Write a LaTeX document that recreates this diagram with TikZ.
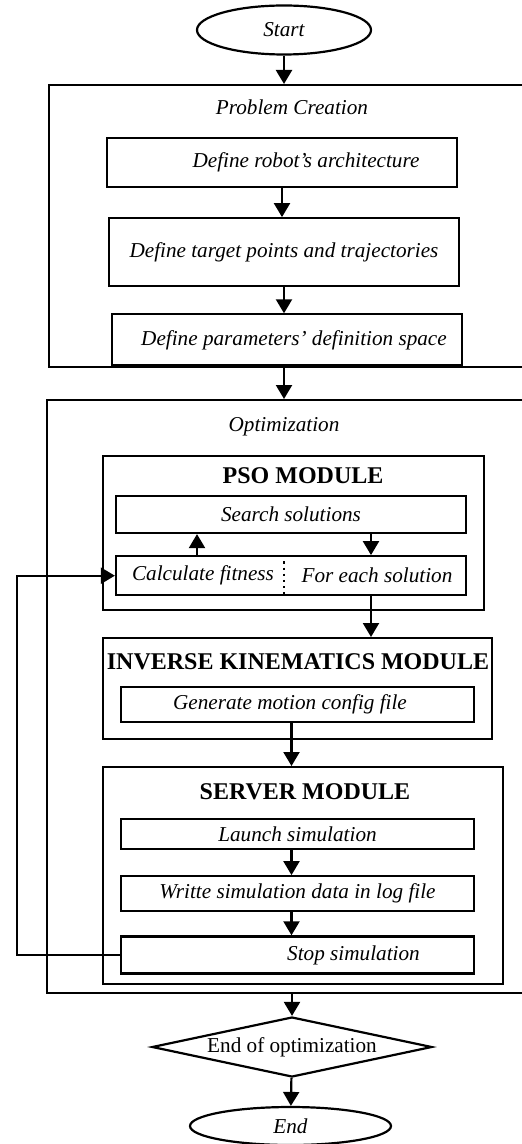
\documentclass[tikz,border=0pt]{standalone}
\usepackage{fontspec}
\setmainfont{Liberation Serif}
\usetikzlibrary{arrows.meta,positioning,shapes.geometric}

\begin{document}
\begin{tikzpicture}[
    x=0.5pt, y=-0.5pt,
    line width=1.1pt,
    font=\fontsize{10.6}{12.7}\selectfont\itshape,
    box/.style={draw,minimum width=175pt,inner sep=0pt},
    frame/.style={draw,anchor=north west,inner sep=0pt},
    head/.style={font=\fontsize{12}{14}\selectfont\bfseries\upshape},
    term/.style={draw,ellipse,inner sep=0pt},
    arr/.style={-{Triangle[length=7pt,width=8pt]}}
  ]
    \useasboundingbox (0,0) rectangle (521,1144);
    \node[term,minimum width=87pt,minimum height=24.5pt] (start) at (284,30) {Start};
    % problem creation
    \node[frame,minimum width=241pt,minimum height=141pt] (prob) at (48,84) {};
    \node (probtitle) at (292,107) {Problem Creation};
    \node[box,minimum height=24.5pt] (arch) at (282,162.5) {\hspace*{24pt}Define robot's architecture};
    \node[box,minimum height=34pt,below=14.5pt of arch,xshift=1pt] (target) {Define target points and trajectories};
    \node[box,minimum height=25.5pt,below=13pt of target,xshift=1.5pt] (space) {\hspace*{7pt}Define parameters' definition space};
    % optimization
    \node[frame,minimum width=242pt,minimum height=296.5pt] (opt) at (46,399) {};
    \node (opttitle) at (284,427) {Optimization};
    \node[frame,minimum width=190.5pt,minimum height=77pt] (pso) at (102,455) {};
    \node[head] (psotitle) at (303,476) {PSO MODULE};
    \node[box,minimum height=18.5pt] (search) at (291,514.5) {Search solutions};
    \node[box,minimum height=19.5pt,below=10.5pt of search] (fit) {};
    \node (calc) at (203,575) {Calculate fitness};
    \node (each) at (377,575) {For each solution};
    \coordinate (split) at (284,0);
    \draw[dotted] (fit.north -| split) -- (fit.south -| split);
    \node[frame,minimum width=194.5pt,minimum height=50.5pt] (ik) at (102,637) {};
    \node[head] (iktitle) at (298,662) {INVERSE KINEMATICS MODULE};
    \node[box,minimum width=176.5pt,minimum height=17.5pt] (gen) at (297.5,704.5) {Generate motion config file\hspace*{7.5pt}};
    \node[frame,minimum width=200pt,minimum height=108.5pt] (server) at (102,766) {};
    \node[head] (servertitle) at (305,792) {SERVER MODULE};
    \node[box,minimum width=176.5pt,minimum height=15pt] (launch) at (297.5,834) {Launch simulation};
    \node[box,minimum width=176.5pt,minimum height=17.5pt,below=12.5pt of launch] (log) {Writte simulation data in log file};
    \node[box,minimum width=176.5pt,minimum height=18.5pt,below=11.5pt of log] (stop) {\hspace*{56pt}Stop simulation};
    % end
    \node[draw,diamond,aspect=4.7,minimum width=140pt,minimum height=30pt,inner sep=0pt,font=\fontsize{10.6}{12.7}\selectfont\upshape] (dec) at (292,1047) {End of optimization};
    \node[term,minimum width=100.5pt,minimum height=19pt] (finish) at (290.5,1126) {End};
    % arrows
    \draw[arr] (start) -- (start |- prob.north);
    \draw[arr] (arch) -- (arch |- target.north);
    \draw[arr] (target) -- (target |- space.north);
    \draw[arr] (start |- prob.south) -- (start |- opt.north);
    \draw[arr] ([xshift=-47pt]fit.north) -- ([xshift=-47pt]search.south);
    \draw[arr] ([xshift=40pt]search.south) -- ([xshift=40pt]fit.north);
    \draw[arr] ([xshift=40pt]fit.south) -- ([xshift=40pt]fit.south |- ik.north);
    \draw[arr] ([xshift=-3pt]gen.south) -- ([xshift=-3pt]gen.south |- server.north);
    \draw[arr] ([xshift=-3pt]launch.south) -- ([xshift=-3pt]log.north);
    \draw[arr] ([xshift=-3pt]log.south) -- ([xshift=-3pt]stop.north);
    \draw[arr] (dec |- opt.south) -- (dec);
    \draw[arr] (dec) -- (finish);
    \coordinate (back) at (17,760);
    \draw[arr] (stop.west) -- (stop.west -| back) |- (fit.west);
  \end{tikzpicture}
\end{document}
